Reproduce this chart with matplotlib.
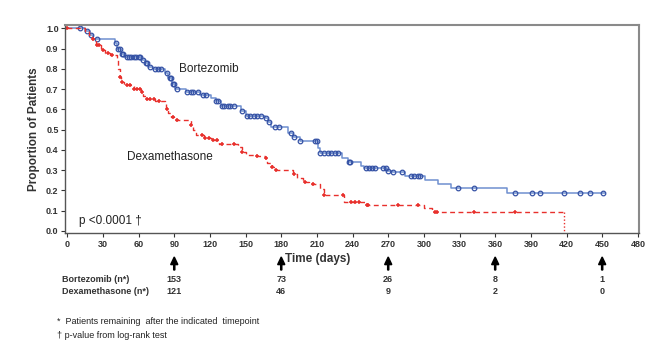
import numpy as np
import matplotlib
matplotlib.use("Agg")
import matplotlib.pyplot as plt

plt.rcParams['font.family'] = ['Liberation Sans', 'DejaVu Sans']

# Kaplan-Meier steps (day, proportion from that day on)
bort_t = [0, 15, 19, 22, 40, 42, 45, 48, 62, 65, 68, 72, 82, 85, 88, 91, 100, 112,
          121, 125, 129, 146, 150, 166, 169, 171, 186, 190, 196, 211, 213, 231, 236,
          247, 250, 269, 273, 284, 301, 312, 323, 370, 452]
bort_s = [1.0, 0.985, 0.965, 0.945, 0.925, 0.90, 0.875, 0.86, 0.845, 0.83, 0.81, 0.80,
          0.78, 0.755, 0.725, 0.70, 0.685, 0.672, 0.655, 0.64, 0.615, 0.59, 0.565, 0.555,
          0.54, 0.515, 0.485, 0.465, 0.445, 0.41, 0.386, 0.36, 0.34, 0.32, 0.31, 0.295,
          0.29, 0.27, 0.25, 0.23, 0.21, 0.186, 0.186]
bort_cens = [11, 17, 20, 25, 41, 43, 44, 46, 47, 50, 52, 54, 56, 58, 60, 61, 64, 66, 67,
             70, 74, 76, 79, 84, 86, 87, 89, 90, 92, 101, 104, 106, 110, 114, 117, 125,
             127, 130, 132, 135, 137, 140, 147, 151, 154, 157, 160, 163, 167, 170, 175,
             178, 188, 191, 196, 208, 210, 213, 216, 219, 222, 225, 228, 237, 238, 251,
             254, 256, 259, 266, 268, 270, 274, 282, 289, 292, 295, 297, 329, 342, 377,
             391, 398, 418, 431, 440, 451]

dexa_t = [0, 15, 18, 21, 24, 28, 32, 36, 42, 43, 44, 45, 48, 56, 62, 64, 66, 74, 82, 83,
          85, 87, 90, 104, 106, 108, 115, 122, 128, 144, 147, 150, 160, 166, 168, 172,
          176, 190, 193, 198, 203, 213, 216, 233, 251, 300, 307, 418]
dexa_s = [1.0, 0.985, 0.965, 0.945, 0.915, 0.895, 0.88, 0.87, 0.85, 0.80, 0.76, 0.735,
          0.72, 0.70, 0.685, 0.665, 0.65, 0.64, 0.625, 0.60, 0.58, 0.56, 0.545, 0.525,
          0.50, 0.475, 0.46, 0.45, 0.43, 0.415, 0.39, 0.375, 0.37, 0.36, 0.335, 0.315,
          0.30, 0.28, 0.26, 0.24, 0.23, 0.205, 0.178, 0.145, 0.128, 0.112, 0.092, 0.092]
dexa_cens = [0, 22, 25, 27, 30, 34, 38, 44, 46, 50, 53, 56, 59, 61, 63, 67, 70, 73, 77,
             84, 89, 92, 104, 113, 116, 119, 123, 126, 130, 140, 147, 160, 167, 172,
             176, 191, 200, 207, 216, 232, 239, 242, 245, 252, 253, 278, 295, 309, 311,
             342, 377]
dexa_end = 418

arrow_days = [90, 180, 270, 360, 450]
bort_n = ["153", "73", "26", "8", "1"]
dexa_n = ["121", "46", "9", "2", "0"]

blue_line = "#6f8fd0"
blue_mark = "#3552a5"
red = "#e8302c"

fig = plt.figure(figsize=(6.53, 3.46), dpi=100)
ax = fig.add_axes([0.1003, 0.3266, 0.8783, 0.6011])


def surv_at(times, surv, t):
    i = np.searchsorted(times, t, side="right") - 1
    return np.asarray(surv)[i]


ax.step(bort_t, bort_s, where="post", color=blue_line, lw=1.1)
ax.plot(bort_cens, [surv_at(bort_t, bort_s, t) for t in bort_cens], "o",
        mfc="none", mec=blue_mark, ms=3.3, mew=0.9)

ax.step(dexa_t, dexa_s, where="post", color=red, lw=1.0, ls=(0, (3.5, 2.5)))
ax.plot([dexa_end, dexa_end], [dexa_s[-1], 0.0], color=red, lw=1.0, ls=(0, (1, 1.5)))
ax.plot(dexa_cens, [surv_at(dexa_t, dexa_s, t) for t in dexa_cens], "+",
        color=red, ms=3.5, mew=1.1)

ax.text(94, 0.80, "Bortezomib", fontsize=8.5, va="center", color="#222222")
ax.text(50.5, 0.367, "Dexamethasone", fontsize=8.5, va="center", color="#222222")
ax.text(9.5, 0.05, "p <0.0001 \u2020", fontsize=8.5, va="center", color="#222222")

ax.set_xlim(-1.5, 481)
ax.set_ylim(-0.01, 1.016)
ax.set_xticks(range(0, 481, 30))
ax.set_yticks(np.arange(0, 1.01, 0.1))
ax.set_yticklabels([f"{v:.1f}" for v in np.arange(0, 1.01, 0.1)])
ax.tick_params(labelsize=6.5, length=3, width=0.8, pad=2, colors="#333333")
for lab in ax.get_xticklabels() + ax.get_yticklabels():
    lab.set_fontweight("bold")
for side in ["top", "right"]:
    ax.spines[side].set_color("#8a8a8a")
    ax.spines[side].set_linewidth(1.5)
for side in ["left", "bottom"]:
    ax.spines[side].set_color("#555555")
    ax.spines[side].set_linewidth(1.0)

ax.set_ylabel("Proportion of Patients", fontsize=8.5, fontweight="bold",
              color="#333333", labelpad=4)

# arrows and numbers at risk below the axis
for d, nb, nd in zip(arrow_days, bort_n, dexa_n):
    xf = ax.transData.transform((d, 0))[0] / fig.bbox.width
    fig.patches.append(matplotlib.patches.FancyArrow(
        xf, 1 - 270 / 346, 0, 13 / 346, width=0.0018, head_width=0.011,
        head_length=0.022, color="black", transform=fig.transFigure,
        length_includes_head=True))
    fig.text(xf, 1 - 280 / 346, nb, fontsize=6.5, fontweight="bold", ha="center",
             va="center", color="#333333")
    fig.text(xf, 1 - 291 / 346, nd, fontsize=6.5, fontweight="bold", ha="center",
             va="center", color="#333333")

fig.text(318 / 653, 1 - 259 / 346, "Time (days)", fontsize=8.5, fontweight="bold",
         ha="center", va="center", color="#333333")
fig.text(62 / 653, 1 - 280 / 346, "Bortezomib (n*)", fontsize=6.5, fontweight="bold",
         va="center", color="#333333")
fig.text(62 / 653, 1 - 291 / 346, "Dexamethasone (n*)", fontsize=6.5,
         fontweight="bold", va="center", color="#333333")

fig.text(57 / 653, 1 - 321 / 346, "*  Patients remaining  after the indicated  timepoint",
         fontsize=6.5, va="center", color="#222222")
fig.text(57 / 653, 1 - 335 / 346, "\u2020 p-value from log-rank test", fontsize=6.5,
         va="center", color="#222222")

fig.savefig("out.png", dpi=100)
